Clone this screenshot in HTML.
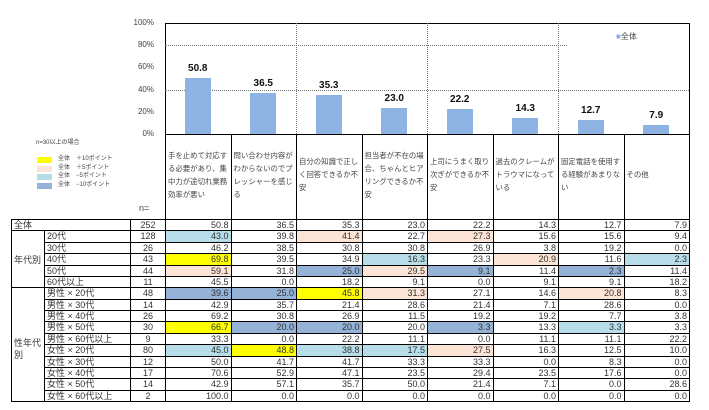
<!DOCTYPE html>
<html><head><meta charset="utf-8">
<style>
body{margin:0;width:709px;height:410px;background:#fff;position:relative;overflow:hidden;font-family:"Liberation Sans","Noto Sans CJK JP",sans-serif;color:#333}
.a{position:absolute;box-sizing:border-box}
.c{position:absolute;box-sizing:border-box;font-size:9px;line-height:10px;white-space:nowrap;overflow:hidden}
.h{position:absolute;font-size:8px;line-height:11px;color:#444}
.hd{position:absolute;box-sizing:border-box;border:1px solid #000;border-bottom:none;display:flex;align-items:center;padding:0 1px 6px 2px;font-size:7.4px;line-height:13px;color:#444;overflow:hidden}
</style></head><body>
<div id="root"></div>
<script>
const categories=["手を止めて対応する必要があり、集中力が途切れ業務効率が悪い","問い合わせ内容がわからないのでプレッシャーを感じる","自分の知識で正しく回答できるか不安","担当者が不在の場合、ちゃんとヒアリングできるか不安","上司にうまく取り次ぎができるか不安","過去のクレームがトラウマになっている","固定電話を使用する経験があまりない","その他"];
const overall=[50.8,36.5,35.3,23.0,22.2,14.3,12.7,7.9];
const yTicks=[0,20,40,60,80,100];
const rowLabels=["全体","20代","30代","40代","50代","60代以上","男性 × 20代","男性 × 30代","男性 × 40代","男性 × 50代","男性 × 60代以上","女性 × 20代","女性 × 30代","女性 × 40代","女性 × 50代","女性 × 60代以上"];
const rowN=[252,128,26,43,44,11,48,14,26,30,9,80,12,17,14,2];
const rowValues=[
[50.8,36.5,35.3,23.0,22.2,14.3,12.7,7.9],
[43.0,39.8,41.4,22.7,27.3,15.6,15.6,9.4],
[46.2,38.5,30.8,30.8,26.9,3.8,19.2,0.0],
[69.8,39.5,34.9,16.3,23.3,20.9,11.6,2.3],
[59.1,31.8,25.0,29.5,9.1,11.4,2.3,11.4],
[45.5,0.0,18.2,9.1,0.0,9.1,9.1,18.2],
[39.6,25.0,45.8,31.3,27.1,14.6,20.8,8.3],
[42.9,35.7,21.4,28.6,21.4,7.1,28.6,0.0],
[69.2,30.8,26.9,11.5,19.2,19.2,7.7,3.8],
[66.7,20.0,20.0,20.0,3.3,13.3,3.3,3.3],
[33.3,0.0,22.2,11.1,0.0,11.1,11.1,22.2],
[45.0,48.8,38.8,17.5,27.5,16.3,12.5,10.0],
[50.0,41.7,41.7,33.3,33.3,0.0,8.3,0.0],
[70.6,52.9,47.1,23.5,29.4,23.5,17.6,0.0],
[42.9,57.1,35.7,50.0,21.4,7.1,0.0,28.6],
[100.0,0.0,0.0,0.0,0.0,0.0,0.0,0.0]];
const rowHighlights=[
"........","l.p.p...","........","y..l.p.l","p.bpb.b.","........",
"bbyp..p.","........","........","ybb.b.l.","........","lyllp...",
"........","........","........","........"];
const legendLabels=["全体　＋10ポイント","全体　＋5ポイント","全体　−5ポイント","全体　−10ポイント"];
const legendCodes=["y","p","l","b"];
const COL={y:"#ffff00",p:"#fce4d6",l:"#b7dee8",b:"#95b3d7"};

const root=document.getElementById('root');
function mk(cls,css,txt){const d=document.createElement('div');d.className=cls;d.style.cssText=css;if(txt!==undefined)d.textContent=txt;root.appendChild(d);return d;}
const X0=165,CW=65.5,YTOP=23,YBOT=134;
const colX=i=>X0+i*CW;
const yScale=v=>YBOT-(v/100)*(YBOT-YTOP);

let e=mk('a',`left:${X0}px;top:${YTOP}px;width:${8*CW+1}px;height:${YBOT-YTOP+1}px;border:1px solid #000;border-bottom:none`);


e=mk('a',`left:${X0}px;top:${yScale(80)}px;width:${402}px;border-top:1px dotted #777`);


e=mk('a',`left:${X0}px;top:${yScale(40)}px;width:${8*CW}px;border-top:1px dotted #777`);


[2,4,6].forEach(k=>{const g=mk('a',`left:${colX(k)}px;top:${YTOP}px;height:${YBOT-YTOP}px;border-left:1px dotted #777`);

});
yTicks.forEach(t=>{const d=mk('h',`left:118px;width:36px;text-align:right;top:${yScale(t)-6}px;font-size:8px`,t+'%');

});
overall.forEach((v,i)=>{
 const cx=colX(i)+CW/2;
 const b=mk('a',`left:${cx-13}px;width:26px;top:${yScale(v)}px;height:${YBOT-yScale(v)}px;background:#8db3e2`);
 
 
 const l=mk('h',`left:${cx-25}px;width:50px;text-align:center;top:${yScale(v)-15}px;font-size:10px;font-weight:bold;color:#111`,v.toFixed(1));
 
 
});
e=mk('h',`left:616px;top:31px;font-size:8px`,'');e.innerHTML='<span style="color:#8db3e2">■</span>全体';



e=mk('h',`left:36px;top:138px;font-size:6px`,'n=30以上の場合');


legendLabels.forEach((t,i)=>{
 const y=157+i*8.5;
 const s=mk('a',`left:37px;top:${y}px;width:15px;height:6px;background:${COL[legendCodes[i]]}`);
 
 
 const l=mk('h',`left:58px;top:${y-3}px;font-size:6px`,t);
 
 
});

categories.forEach((c,i)=>{
 const h=mk('hd',`left:${colX(i)}px;top:${YBOT}px;width:${CW+1}px;height:${219-YBOT+1}px`);
 const s=document.createElement('span');s.textContent=c;h.appendChild(s);
 
 
});
e=mk('h',`left:139px;top:203px;font-size:9px`,'n=');



const RT=219,RH=11.375;
const rowY=r=>RT+r*RH;
rowLabels.forEach((lab,r)=>{
 const y=rowY(r),h=RH+1;
 const isAll=r===0;
 const L=mk('c',`left:${isAll?11:44}px;top:${y}px;width:${isAll?120:87}px;height:${h}px;border:1px solid #000;padding-left:2px`,lab);
 
 
 const N=mk('c',`left:130px;top:${y}px;width:36px;height:${h}px;border:1px solid #000;text-align:center`,rowN[r]);
 
 
 rowValues[r].forEach((v,i)=>{
  const code=rowHighlights[r][i];
  const bg=COL[code]||'#fff';
  const C=mk('c',`left:${colX(i)}px;top:${y}px;width:${CW+1}px;height:${h}px;border:1px solid #000;text-align:right;padding-right:2px;background:${bg}`,v.toFixed(1));
  
  
 });
});
e=mk('c',`left:11px;top:${rowY(1)}px;width:34px;height:${5*RH+1}px;border:1px solid #000;padding-left:2px;padding-top:${2*RH+1}px`,'年代別');


e=mk('c',`left:11px;top:${rowY(6)}px;width:34px;height:${10*RH+1}px;border:1px solid #000;padding-left:2px;padding-top:${4*RH+3}px;white-space:normal;line-height:12px`,'性年代別');


</script>
</body></html>
